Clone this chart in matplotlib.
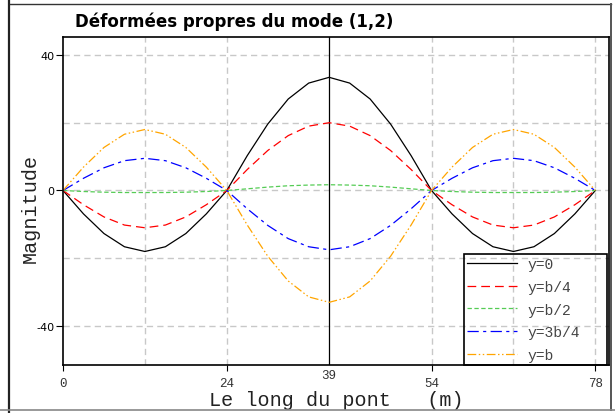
import matplotlib
matplotlib.use('Agg')
import matplotlib.pyplot as plt
from matplotlib.lines import Line2D
import numpy as np

# position along the bridge (m), one reading every 3 m
positions = [0, 3, 6, 9, 12, 15, 18, 21, 24,
             27, 30, 33, 36, 39, 42, 45, 48, 51, 54,
             57, 60, 63, 66, 69, 72, 75, 78]

y_0 = [0, -6.9, -12.7, -16.6, -18.0, -16.6, -12.7, -6.9, 0,
       10.3, 19.6, 27.0, 31.7, 33.4, 31.7, 27.0, 19.6, 10.3, 0,
       -6.9, -12.7, -16.6, -18.0, -16.6, -12.7, -6.9, 0]
y_b4 = [0, -4.2, -7.8, -10.2, -11.0, -10.2, -7.8, -4.2, 0,
        6.2, 11.8, 16.2, 19.0, 20.0, 19.0, 16.2, 11.8, 6.2, 0,
        -4.2, -7.8, -10.2, -11.0, -10.2, -7.8, -4.2, 0]
y_b2 = [0, -0.3, -0.5, -0.6, -0.6, -0.6, -0.5, -0.3, 0,
        0.5, 1.0, 1.4, 1.6, 1.7, 1.6, 1.4, 1.0, 0.5, 0,
        -0.3, -0.5, -0.6, -0.6, -0.6, -0.5, -0.3, 0]
y_3b4 = [0, 3.6, 6.7, 8.8, 9.5, 8.8, 6.7, 3.6, 0,
         -5.4, -10.3, -14.2, -16.6, -17.5, -16.6, -14.2, -10.3, -5.4, 0,
         3.6, 6.7, 8.8, 9.5, 8.8, 6.7, 3.6, 0]
y_b = [0, 6.9, 12.7, 16.6, 18.0, 16.6, 12.7, 6.9, 0,
       -10.2, -19.4, -26.7, -31.4, -33.0, -31.4, -26.7, -19.4, -10.2, 0,
       6.9, 12.7, 16.6, 18.0, 16.6, 12.7, 6.9, 0]

labels = ['y=0', 'y=b/4', 'y=b/2', 'y=3b/4', 'y=b']
x_ticks = [0, 24, 54, 78]
x_mid_tick = 39
y_ticks = [40, 0, -40]

title = 'Déformées propres du mode (1,2)'
xlabel = 'Le long du pont   (m)'
ylabel = 'Magnitude'

mono = 'Liberation Mono'


def plot_data(out_fn):
    fig = plt.figure(figsize=(6.15, 4.14), dpi=100)
    W, H = 615.0, 414.0
    ax = fig.add_axes([63/W, 1-366/H, 546/W, 328/H])

    # grid, drawn by hand (gray dashed)
    for gx in [12, 24, 54, 66, 78]:
        ax.axvline(gx, color='#c8c8c8', lw=1, ls=(0, (4.5, 3)), zorder=0)
    for gy in [40, 20, 0, -20, -40]:
        ax.axhline(gy, color='#c8c8c8', lw=1, ls=(0, (4.5, 3)), zorder=0)
    ax.axvline(x_mid_tick, color='black', lw=0.9, zorder=1)

    ax.plot(positions, y_0, color='black', lw=0.9, label=labels[0])
    ax.plot(positions, y_b4, color='red', lw=0.9,
            dashes=(7, 4), label=labels[1])
    ax.plot(positions, y_b2, color='#55cc55', lw=0.9,
            dashes=(3.5, 2), label=labels[2])
    ax.plot(positions, y_3b4, color='blue', lw=0.9,
            dashes=(9, 3.5, 2.5, 3.5), label=labels[3])
    ax.plot(positions, y_b, color='orange', lw=0.9,
            dashes=(7, 2, 1.2, 2, 1.2, 2), label=labels[4])

    ax.set_xlim(0, 80)
    ax.set_ylim(-51.5, 45.3)

    ax.set_xticks(x_ticks)
    ax.set_xticklabels([str(t) for t in x_ticks], family=mono,
                       fontsize=9, color='#333333')
    ax.set_xticks([x_mid_tick], minor=True)
    ax.set_xticklabels([str(x_mid_tick)], minor=True, family=mono,
                       fontsize=9, color='#333333')
    ax.tick_params(axis='x', which='major', length=4, pad=5)
    ax.tick_params(axis='x', which='minor', length=0, pad=3)

    ax.set_yticks(y_ticks)
    ax.set_yticklabels([str(t) for t in y_ticks], fontsize=8)
    ax.tick_params(axis='y', length=5, pad=1)

    for s in ax.spines.values():
        s.set_linewidth(1.2)

    ax.set_xlabel(xlabel, family=mono, fontsize=14.5, color='#222222')
    ax.xaxis.set_label_coords(0.5, -0.075)
    ax.set_ylabel(ylabel, family=mono, fontsize=14.5, color='#222222')
    ax.yaxis.set_label_coords(-0.042, 0.48)

    # legend box spans x 464..607 px, sits on the bottom spine
    leg = ax.legend(loc='lower left',
                    bbox_to_anchor=((464-63)/546, 0, (607-464)/546, 0.3),
                    mode='expand', borderaxespad=0,
                    prop={'family': mono, 'size': 10.5},
                    handlelength=3.4, handletextpad=0.75, labelspacing=0.6,
                    borderpad=0.2, fancybox=False, framealpha=1,
                    facecolor='none', edgecolor='black')
    leg.get_frame().set_linewidth(1.2)
    for t in leg.get_texts():
        t.set_color('#444444')

    fig.text(75/W, 1-22/H, title, fontsize=12, fontweight='bold',
             ha='left', va='center')

    # window frame around the chart
    def frame_line(xs, ys, **kw):
        fig.add_artist(Line2D([x/W for x in xs], [1-y/H for y in ys],
                              transform=fig.transFigure, **kw))
    frame_line([9, 9], [0, 414], color='#222222', lw=1.6)
    frame_line([10, 611], [5, 5], color='#333333', lw=1)
    frame_line([611, 611], [5, 411], color='#555555', lw=1.4)
    frame_line([0, 615], [411, 411], color='#888888', lw=1.2)

    plt.savefig(out_fn, dpi=100)


if __name__ == '__main__':
    plot_data('out.png')
